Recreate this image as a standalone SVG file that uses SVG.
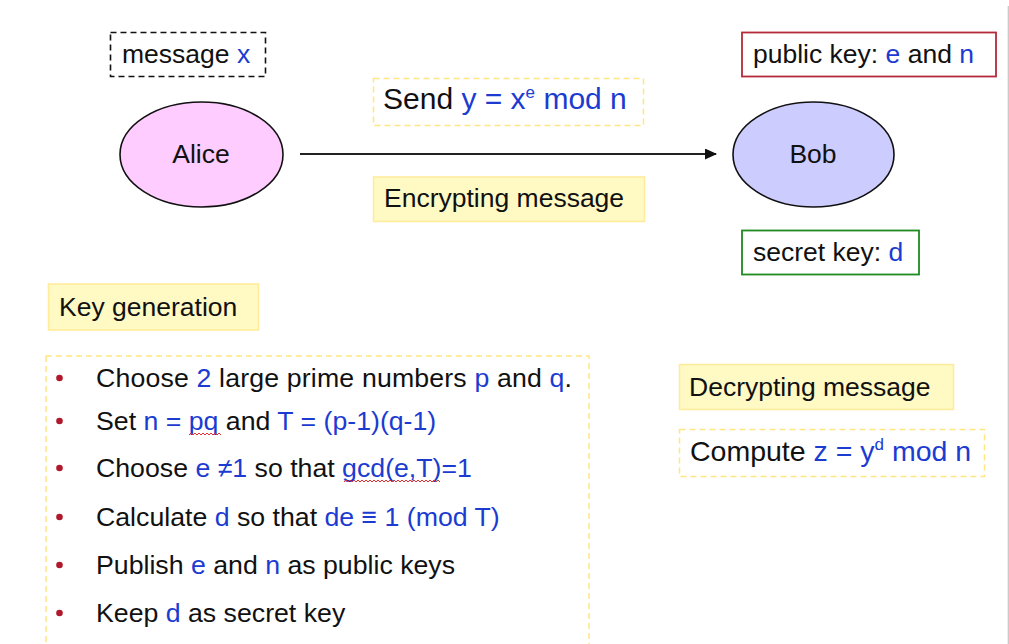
<svg xmlns="http://www.w3.org/2000/svg" width="1009" height="644" viewBox="0 0 1009 644">
  <defs>
    <style>
      text { font-family: "Liberation Sans", Arial, Helvetica, sans-serif; fill: #111111; }
      .t { font-size: 26.5px; }
      .big { font-size: 28.5px; }
      .send { font-size: 30px; }
      .list { font-size: 26.7px; }
      .b { fill: #1b3bd1; }
      .ydash { fill: #ffffff; stroke: #ffe680; stroke-width: 1.5; stroke-dasharray: 6 4; }
      .ybox { fill: #fff9c4; stroke: #ffeb99; stroke-width: 1.5; }
      .node { stroke: #111111; stroke-width: 1.6; }
      .bullet { fill: #b0182c; }
      .squig { fill: none; stroke: #e03030; stroke-width: 1; }
    </style>
    <marker id="arrow" viewBox="0 0 12 11" refX="11" refY="5.5" markerWidth="12" markerHeight="11" markerUnits="userSpaceOnUse" orient="auto">
      <path d="M0,0 L12,5.5 L0,11 Z" fill="#111111"/>
    </marker>
  </defs>

  <rect x="0" y="0" width="1009" height="644" fill="#ffffff"/>
  <line x1="1008.3" y1="6" x2="1008.3" y2="644" stroke="#c4c4c4" stroke-width="1.2"/>

  <g id="connectors">
    <line x1="300" y1="154" x2="716" y2="154" stroke="#222222" stroke-width="2" marker-end="url(#arrow)"/>
  </g>

  <g id="message-x">
    <rect x="110.5" y="32.5" width="155" height="44" fill="#ffffff" stroke="#111111" stroke-width="1.6" stroke-dasharray="6 4"/>
    <text class="t" x="122" y="63">message <tspan class="b">x</tspan></text>
  </g>

  <g id="alice">
    <ellipse class="node" cx="201.5" cy="154.5" rx="81.5" ry="52.5" fill="#ffccff"/>
    <text class="t" x="201" y="163" text-anchor="middle">Alice</text>
  </g>

  <g id="bob">
    <ellipse class="node" cx="813.5" cy="154.5" rx="80.5" ry="52.5" fill="#ccccff"/>
    <text class="t" x="813" y="163" text-anchor="middle">Bob</text>
  </g>

  <g id="public-key">
    <rect x="742" y="32.5" width="254" height="44" fill="#ffffff" stroke="#b52a3a" stroke-width="1.8"/>
    <text class="t" x="753" y="63">public key: <tspan class="b">e</tspan> and <tspan class="b">n</tspan></text>
  </g>

  <g id="secret-key">
    <rect x="742" y="230.5" width="177" height="44" fill="#ffffff" stroke="#1f8a1f" stroke-width="1.8"/>
    <text class="t" x="753" y="261">secret key: <tspan class="b">d</tspan></text>
  </g>

  <g id="send">
    <rect class="ydash" x="373.5" y="78.5" width="270" height="47"/>
    <text class="send" x="383" y="109">Send <tspan class="b">y = x</tspan><tspan class="b" font-size="17" dy="-11">e</tspan><tspan class="b" dy="11"> mod n</tspan></text>
  </g>

  <g id="encrypting">
    <rect class="ybox" x="373.5" y="177" width="271" height="44.5"/>
    <text class="t" x="384" y="207">Encrypting message</text>
  </g>

  <g id="key-generation">
    <rect class="ybox" x="48.5" y="284" width="210" height="46"/>
    <text class="t" x="59" y="316">Key generation</text>
  </g>

  <g id="key-steps">
    <rect class="ydash" x="46" y="356" width="543" height="300"/>
    <circle class="bullet" cx="59.5" cy="378" r="3.3"/>
    <circle class="bullet" cx="59.5" cy="421" r="3.3"/>
    <circle class="bullet" cx="59.5" cy="468" r="3.3"/>
    <circle class="bullet" cx="59.5" cy="517" r="3.3"/>
    <circle class="bullet" cx="59.5" cy="565" r="3.3"/>
    <circle class="bullet" cx="59.5" cy="613" r="3.3"/>
    <text class="list" x="96" y="387" textLength="476" lengthAdjust="spacing">Choose <tspan class="b">2</tspan> large prime numbers <tspan class="b">p</tspan> and <tspan class="b">q</tspan>.</text>
    <text class="list" x="96" y="430">Set <tspan class="b">n = pq</tspan> and <tspan class="b">T = (p-1)(q-1)</tspan></text>
    <text class="list" x="96" y="477">Choose <tspan class="b">e ≠1</tspan> so that <tspan class="b">gcd(e,T)=1</tspan></text>
    <text class="list" x="96" y="526">Calculate <tspan class="b">d</tspan> so that <tspan class="b">de ≡ 1 (mod T)</tspan></text>
    <text class="list" x="96" y="574">Publish <tspan class="b">e</tspan> and <tspan class="b">n</tspan> as public keys</text>
    <text class="list" x="96" y="622">Keep <tspan class="b">d</tspan> as secret key</text>
    <path class="squig" d="M189,435 l2,-2 l2,2 l2,-2 l2,2 l2,-2 l2,2 l2,-2 l2,2 l2,-2 l2,2 l2,-2 l2,2 l2,-2 l2,2 l2,-2 l2,2"/>
    <path class="squig" d="M344,482 l2,-2 l2,2 l2,-2 l2,2 l2,-2 l2,2 l2,-2 l2,2 l2,-2 l2,2 l2,-2 l2,2 l2,-2 l2,2 l2,-2 l2,2 l2,-2 l2,2 l2,-2 l2,2 l2,-2 l2,2 l2,-2 l2,2 l2,-2 l2,2 l2,-2 l2,2 l2,-2 l2,2 l2,-2 l2,2 l2,-2 l2,2 l2,-2 l2,2 l2,-2 l2,2 l2,-2 l2,2 l2,-2 l2,2 l2,-2 l2,2 l2,-2 l2,2 l2,-2 l2,2"/>
  </g>

  <g id="decrypting">
    <rect class="ybox" x="679.5" y="364.5" width="274" height="45"/>
    <text class="t" x="689" y="396">Decrypting message</text>
  </g>

  <g id="compute">
    <rect class="ydash" x="679.5" y="429.5" width="305" height="47"/>
    <text class="big" x="690" y="461">Compute <tspan class="b">z = y</tspan><tspan class="b" font-size="17" dy="-11">d</tspan><tspan class="b" dy="11"> mod n</tspan></text>
  </g>
</svg>
